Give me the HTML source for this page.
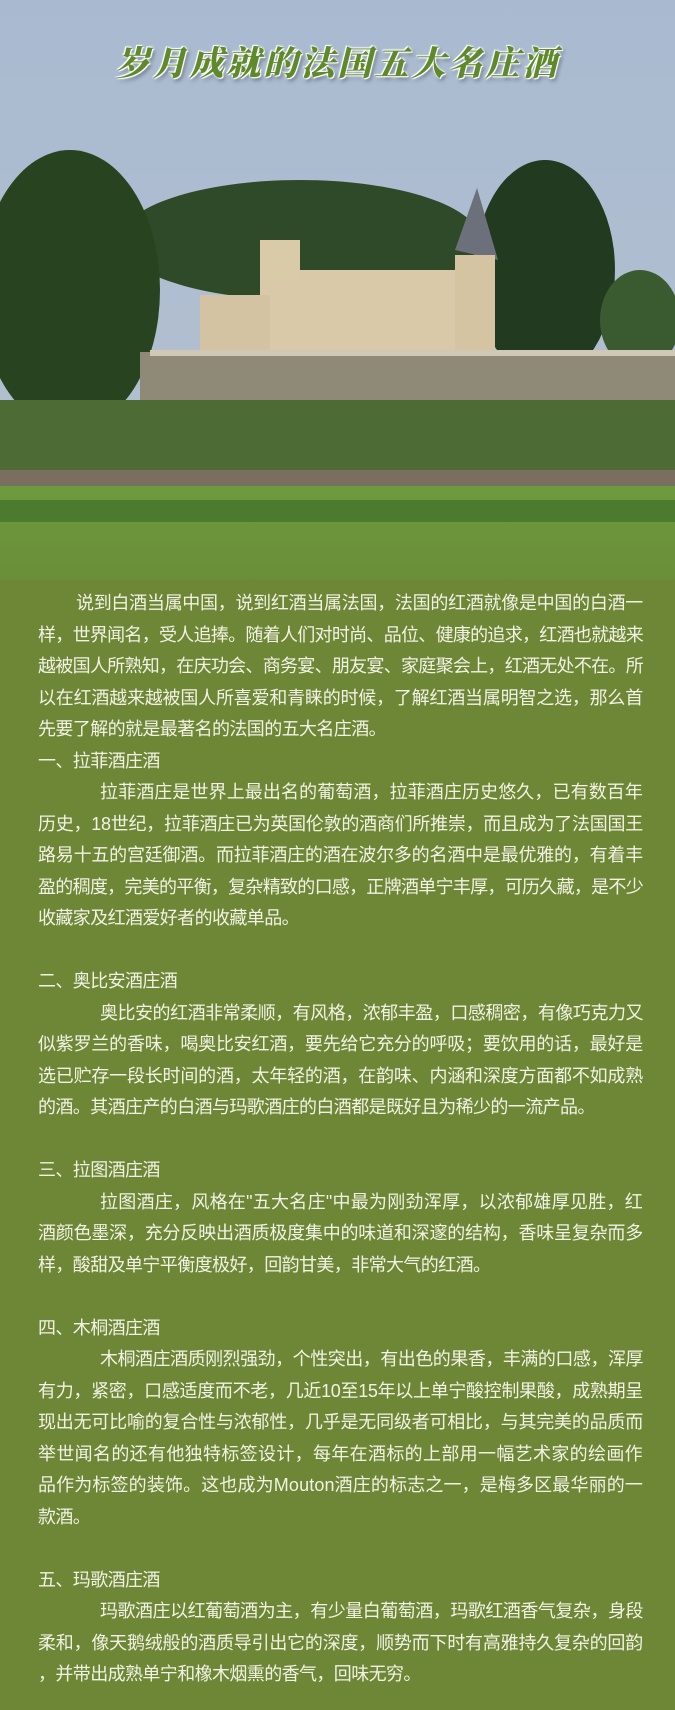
<!DOCTYPE html>
<html><head><meta charset="utf-8"><style>
*{margin:0;padding:0}
body{width:675px;height:1710px;background:#6e8737;overflow:hidden;position:relative;font-family:"Liberation Sans","Noto Sans CJK SC",sans-serif}
#photo{position:absolute;left:0;top:0;width:675px;height:580px}
#title{position:absolute;left:0;top:36px;width:675px;text-align:center;font-family:"Noto Serif CJK SC","WenQuanYi Zen Hei",serif;font-weight:900;font-style:italic;font-size:34px;letter-spacing:3px;color:#5e8a2c;text-shadow:0 0 2px #fff,0 0 3px #fff,1px 1px 0 #fff,-1px -1px 0 #fff,2px 3px 4px rgba(0,0,0,.4)}
#text{position:absolute;left:38px;top:588px;width:605px;color:#f2f2e4;font-size:18px;line-height:31.5px}
.l{white-space:nowrap;height:31.5px}
.l span{display:inline-block}
.i1{padding-left:38px}.i2{padding-left:62px}
</style></head><body>
<svg id="photo" viewBox="0 0 675 580" width="675" height="580">
<defs><linearGradient id="sky" x1="0" y1="0" x2="0" y2="1"><stop offset="0" stop-color="#a9bad0"/><stop offset="1" stop-color="#b5c1cf"/></linearGradient>
<linearGradient id="lawn" x1="0" y1="0" x2="0" y2="1"><stop offset="0" stop-color="#6e9a3e"/><stop offset="1" stop-color="#6a8f38"/></linearGradient></defs>
<rect width="675" height="580" fill="url(#sky)"/>
<ellipse cx="300" cy="240" rx="180" ry="60" fill="#2f4a28"/>
<ellipse cx="70" cy="290" rx="90" ry="140" fill="#28431f"/>
<ellipse cx="545" cy="270" rx="70" ry="110" fill="#223a20"/>
<ellipse cx="640" cy="320" rx="40" ry="50" fill="#3a5a30"/>
<rect x="260" y="270" width="215" height="105" fill="#d9c9a8"/>
<rect x="200" y="295" width="70" height="60" fill="#d3c3a2"/>
<rect x="260" y="240" width="40" height="40" fill="#d9caa8"/>
<polygon points="455,250 477,188 498,260" fill="#6b707a"/>
<rect x="455" y="255" width="40" height="110" fill="#d4c4a2"/>
<rect x="140" y="352" width="535" height="58" fill="#8f8a78"/>
<rect x="150" y="350" width="525" height="6" fill="#cfc8b4"/>
<rect x="0" y="400" width="675" height="80" fill="#4d6b35"/>
<rect x="0" y="470" width="675" height="16" fill="#7a6e5f"/>
<rect x="0" y="486" width="675" height="94" fill="url(#lawn)"/>
<rect x="0" y="500" width="675" height="22" fill="#4c7a2e"/>
</svg>
<div id="title">岁月成就的法国五大名庄酒</div>
<div id="text">
<div class="l f i1"><span>说到白酒当属中国，说到红酒当属法国，法国的红酒就像是中国的白酒一</span></div>
<div class="l f"><span>样，世界闻名，受人追捧。随着人们对时尚、品位、健康的追求，红酒也就越来</span></div>
<div class="l f"><span>越被国人所熟知，在庆功会、商务宴、朋友宴、家庭聚会上，红酒无处不在。所</span></div>
<div class="l f"><span>以在红酒越来越被国人所喜爱和青睐的时候，了解红酒当属明智之选，那么首</span></div>
<div class="l"><span>先要了解的就是最著名的法国的五大名庄酒。</span></div>
<div class="l"><span>一、拉菲酒庄酒</span></div>
<div class="l f i2"><span>拉菲酒庄是世界上最出名的葡萄酒，拉菲酒庄历史悠久，已有数百年</span></div>
<div class="l f"><span>历史，18世纪，拉菲酒庄已为英国伦敦的酒商们所推崇，而且成为了法国国王</span></div>
<div class="l f"><span>路易十五的宫廷御酒。而拉菲酒庄的酒在波尔多的名酒中是最优雅的，有着丰</span></div>
<div class="l f"><span>盈的稠度，完美的平衡，复杂精致的口感，正牌酒单宁丰厚，可历久藏，是不少</span></div>
<div class="l"><span>收藏家及红酒爱好者的收藏单品。</span></div>
<div class="l"></div>
<div class="l"><span>二、奥比安酒庄酒</span></div>
<div class="l f i2"><span>奥比安的红酒非常柔顺，有风格，浓郁丰盈，口感稠密，有像巧克力又</span></div>
<div class="l f"><span>似紫罗兰的香味，喝奥比安红酒，要先给它充分的呼吸；要饮用的话，最好是</span></div>
<div class="l f"><span>选已贮存一段长时间的酒，太年轻的酒，在韵味、内涵和深度方面都不如成熟</span></div>
<div class="l"><span>的酒。其酒庄产的白酒与玛歌酒庄的白酒都是既好且为稀少的一流产品。</span></div>
<div class="l"></div>
<div class="l"><span>三、拉图酒庄酒</span></div>
<div class="l f i2"><span>拉图酒庄，风格在"五大名庄"中最为刚劲浑厚，以浓郁雄厚见胜，红</span></div>
<div class="l f"><span>酒颜色墨深，充分反映出酒质极度集中的味道和深邃的结构，香味呈复杂而多</span></div>
<div class="l"><span>样，酸甜及单宁平衡度极好，回韵甘美，非常大气的红酒。</span></div>
<div class="l"></div>
<div class="l"><span>四、木桐酒庄酒</span></div>
<div class="l f i2"><span>木桐酒庄酒质刚烈强劲，个性突出，有出色的果香，丰满的口感，浑厚</span></div>
<div class="l f"><span>有力，紧密，口感适度而不老，几近10至15年以上单宁酸控制果酸，成熟期呈</span></div>
<div class="l f"><span>现出无可比喻的复合性与浓郁性，几乎是无同级者可相比，与其完美的品质而</span></div>
<div class="l f"><span>举世闻名的还有他独特标签设计，每年在酒标的上部用一幅艺术家的绘画作</span></div>
<div class="l f"><span>品作为标签的装饰。这也成为Mouton酒庄的标志之一，是梅多区最华丽的一</span></div>
<div class="l"><span>款酒。</span></div>
<div class="l"></div>
<div class="l"><span>五、玛歌酒庄酒</span></div>
<div class="l f i2"><span>玛歌酒庄以红葡萄酒为主，有少量白葡萄酒，玛歌红酒香气复杂，身段</span></div>
<div class="l f"><span>柔和，像天鹅绒般的酒质导引出它的深度，顺势而下时有高雅持久复杂的回韵</span></div>
<div class="l"><span>，并带出成熟单宁和橡木烟熏的香气，回味无穷。</span></div>
</div>
<script>
document.querySelectorAll('#text .l.f').forEach(function(d){
  var s=d.firstChild;
  var pad=parseFloat(getComputedStyle(d).paddingLeft)||0;
  var avail=605-pad;
  var w=s.getBoundingClientRect().width;
  var n=s.textContent.length;
  s.style.letterSpacing=((avail-w)/n)+'px';
});
document.querySelectorAll('#text .l:not(.f) span').forEach(function(s){
  s.style.letterSpacing='-0.6px';
});
</script>
</body></html>
